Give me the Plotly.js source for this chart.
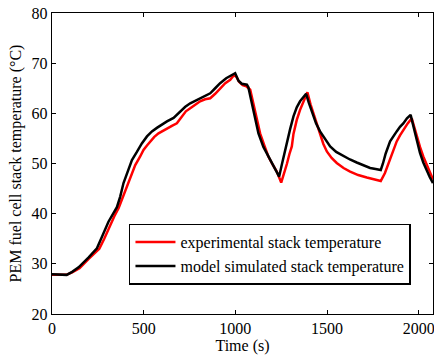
<!DOCTYPE html>
<html>
<head>
<meta charset="utf-8">
<script src="https://cdn.plot.ly/plotly-3.0.1.min.js"></script>
<style>html,body{margin:0;padding:0;background:#fff;}#chart{width:434px;height:355px;}</style>
</head>
<body>
<div id="chart"></div>
<script>
var timeExp = [0,40,78,110,150,200,258,285,310,340,363,386,409,427,454,481,499,518,536,558,581,604,627,654,681,708,730,754,781,808,835,863,890,917,945,972,992,1005,1020,1040,1060,1081,1095,1108,1122,1135,1158,1180,1203,1226,1250,1265,1281,1295,1308,1317,1335,1353,1367,1380,1393,1410,1426,1444,1462,1480,1499,1525,1553,1590,1626,1670,1717,1750,1793,1816,1830,1844,1862,1880,1898,1916,1940,1962,1975,1989,2007,2025,2044,2062,2078];
var tempExp = [27.8,27.75,27.8,28.3,29.1,31.0,33.0,35.0,37.2,39.5,41.1,43.3,45.4,47.4,49.7,51.4,52.7,53.6,54.4,55.3,56.0,56.5,57.0,57.5,58.0,59.4,60.4,61.0,61.7,62.4,62.8,63.0,63.9,65.0,66.0,66.7,67.6,67.3,66.3,65.6,65.4,64.7,62.3,60.0,57.9,56.0,53.6,51.4,49.8,48.4,46.2,47.8,49.9,51.9,53.4,55.9,58.7,60.7,62.0,63.0,64.2,61.8,60.0,57.5,55.7,53.9,52.4,51.1,50.1,49.1,48.4,47.7,47.2,46.9,46.5,48.1,49.5,51.1,52.9,54.4,55.6,56.7,58.0,59.0,57.2,55.4,53.3,51.4,49.8,48.4,46.8];
var timeModel = [0,40,80,110,145,200,245,275,308,354,372,390,409,436,463,490,518,545,572,600,627,663,699,727,754,781,808,835,863,890,917,950,975,999,1017,1035,1063,1071,1090,1104,1126,1153,1190,1215,1239,1253,1267,1281,1299,1317,1335,1353,1370,1386,1400,1417,1440,1462,1490,1517,1550,1589,1625,1662,1700,1735,1765,1793,1805,1820,1844,1862,1880,1898,1916,1936,1956,1968,1980,2007,2025,2044,2060,2078];
var tempModel = [27.9,27.85,27.8,28.4,29.3,31.3,33.1,35.6,38.4,41.3,43.4,46.1,48.1,50.7,52.3,54.0,55.4,56.4,57.1,57.8,58.4,59.1,60.4,61.3,62.0,62.5,63.0,63.5,64.0,65.0,66.0,67.0,67.6,68.0,66.5,65.9,65.7,65.2,62.0,59.4,56.0,53.3,50.7,49.1,47.4,49.7,52.0,54.0,56.9,59.4,61.2,62.4,63.2,63.9,62.2,60.4,58.0,56.4,54.8,53.4,52.3,51.5,50.8,50.2,49.7,49.1,48.9,48.7,50.0,52.0,54.4,55.5,56.4,57.3,58.0,59.0,59.7,57.9,56.0,52.1,50.2,48.4,47.3,46.1];
var seriesNames = ['experimental stack temperature','model simulated stack temperature'];
var xTicks = [0,500,1000,1500,2000];
var yTicks = [20,30,40,50,60,70,80];

var font = 'Liberation Serif';
var traces = [
  {x: timeExp, y: tempExp, name: seriesNames[0], mode: 'lines', line: {color: '#ff0000', width: 2.5}},
  {x: timeModel, y: tempModel, name: seriesNames[1], mode: 'lines', line: {color: '#000000', width: 2.5}}
];
var axisCommon = {
  showline: true, linecolor: '#000', linewidth: 1.2, mirror: 'ticks',
  ticks: 'inside', ticklen: 4, tickcolor: '#000', tickwidth: 1,
  showgrid: false, zeroline: false, ticklabeloverflow: 'allow',
  tickfont: {family: font, size: 16, color: '#000'}
};
var layout = {
  width: 434, height: 355,
  margin: {l: 52, r: 1, t: 13, b: 41},
  paper_bgcolor: '#fff', plot_bgcolor: '#fff',
  font: {family: font, color: '#000'},
  showlegend: true,
  legend: {x: 0.202, y: 0.30, xanchor: 'left', yanchor: 'top',
    bordercolor: '#000', borderwidth: 1.5, bgcolor: '#fff', itemwidth: 40,
    font: {family: font, size: 16, color: '#000'}, tracegroupgap: 0},
  xaxis: Object.assign({}, axisCommon, {range: [0, 2078], tickvals: xTicks,
    title: {text: 'Time (s)', font: {family: font, size: 16, color: '#000'}, standoff: 0}}),
  yaxis: Object.assign({}, axisCommon, {range: [20, 80], tickvals: yTicks,
    title: {text: 'PEM fuel cell stack temperature (°C)', font: {family: font, size: 16, color: '#000'}, standoff: 6}})
};
Plotly.newPlot('chart', traces, layout, {displayModeBar: false, staticPlot: true});
</script>
</body>
</html>
